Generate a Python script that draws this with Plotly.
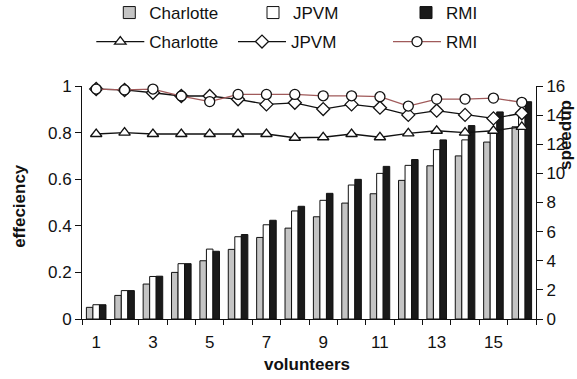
import plotly.graph_objects as go

volunteers = list(range(1, 17))
tick_vals = [1, 3, 5, 7, 9, 11, 13, 15]
tick_labels = ["1", "3", "5", "7", "9", "11", "13", "15"]

speedup_charlotte = [0.80, 1.62, 2.40, 3.20, 4.00, 4.78, 5.60, 6.24, 7.02, 7.96, 8.60, 9.52, 10.52, 11.20, 12.15, 13.20]
speedup_jpvm = [0.98, 1.95, 2.92, 3.80, 4.80, 5.65, 6.47, 7.42, 8.15, 9.20, 10.00, 10.55, 11.63, 12.30, 12.88, 14.00]
speedup_rmi = [0.98, 1.95, 2.94, 3.80, 4.65, 5.80, 6.78, 7.74, 8.63, 9.59, 10.48, 10.95, 12.30, 13.28, 14.22, 14.92]

eff_charlotte = [0.794, 0.800, 0.794, 0.794, 0.794, 0.794, 0.794, 0.778, 0.780, 0.794, 0.780, 0.797, 0.808, 0.800, 0.808, 0.825]
eff_jpvm = [0.987, 0.983, 0.971, 0.957, 0.957, 0.943, 0.921, 0.928, 0.901, 0.921, 0.907, 0.876, 0.894, 0.876, 0.861, 0.883]
eff_rmi = [0.987, 0.983, 0.987, 0.957, 0.933, 0.964, 0.964, 0.964, 0.958, 0.958, 0.954, 0.914, 0.944, 0.944, 0.948, 0.930]

FONT = "Liberation Sans, Arial, sans-serif"

fig = go.Figure()

bar_specs = [
    ("Charlotte", speedup_charlotte, "#c4c4c4", 98.7),
    ("JPVM", speedup_jpvm, "#ffffff", 108),
    ("RMI", speedup_rmi, "#1a1a1a", None),
]
for name, vals, col, lw in bar_specs:
    kw = dict(legendwidth=lw) if lw else {}
    fig.add_trace(go.Bar(
        x=volunteers, y=vals, name=name, yaxis="y",
        marker=dict(color=col, line=dict(color="#111111", width=1)),
        legend="legend", **kw))

line_specs = [
    ("Charlotte", eff_charlotte, "#111111", "triangle-up", 78.7),
    ("JPVM", eff_jpvm, "#111111", "diamond", 92),
    ("RMI", eff_rmi, "#a05a5a", "circle", None),
]
for name, vals, col, sym, lw in line_specs:
    kw = dict(legendwidth=lw) if lw else {}
    fig.add_trace(go.Scatter(
        x=volunteers, y=vals, name=name, yaxis="y2", mode="lines+markers",
        line=dict(color=col, width=1.3),
        marker=dict(symbol=sym, size=10, color="white",
                    line=dict(color="#111111", width=1.3)),
        legend="legend2", cliponaxis=False, **kw))

axis_common = dict(showline=True, linecolor="#111111", linewidth=1,
                   showgrid=False, zeroline=False,
                   tickfont=dict(family=FONT, size=17, color="#111111"))

fig.update_layout(
    width=577, height=379,
    margin=dict(l=82, r=41, t=86, b=60),
    paper_bgcolor="white", plot_bgcolor="white",
    font=dict(family=FONT, size=17, color="#111111"),
    barmode="group", bargap=0.31, bargroupgap=0,
    xaxis=dict(range=[0.5, 16.5], tickvals=tick_vals, ticktext=tick_labels,
               ticks="outside", ticklen=8, tickcolor="rgba(0,0,0,0)",
               minor=dict(ticks="outside", ticklen=5, tickcolor="#111111",
                          tick0=0.5, dtick=1),
               **axis_common),
    yaxis=dict(range=[0, 16], dtick=2, side="right", ticks="outside",
               ticklen=6, tickcolor="#111111", **axis_common),
    yaxis2=dict(range=[0, 1], dtick=0.2, side="left", overlaying="y",
                ticks="outside", ticklen=6, tickcolor="#111111", **axis_common),
    legend=dict(orientation="h", xref="container", yref="container",
                x=109.3 / 577, xanchor="left", y=1 - 13 / 379, yanchor="middle",
                font=dict(family=FONT, size=17), bgcolor="rgba(0,0,0,0)"),
    legend2=dict(orientation="h", xref="container", yref="container",
                 itemwidth=48,
                 x=91.3 / 577, xanchor="left", y=1 - 42 / 379, yanchor="middle",
                 font=dict(family=FONT, size=17), bgcolor="rgba(0,0,0,0)"),
    annotations=[
        dict(text="<b>volunteers</b>", xref="paper", yref="paper",
             x=(307 - 82) / 454, y=(319.3 - 365) / 233.3, showarrow=False,
             xanchor="center", yanchor="middle",
             font=dict(family=FONT, size=17)),
        dict(text="<b>effeciency</b>", xref="paper", yref="paper",
             x=(20 - 82) / 454, y=(319.3 - 206) / 233.3, showarrow=False,
             xanchor="center", yanchor="middle",
             textangle=-90, font=dict(family=FONT, size=17)),
        dict(text="<b>speedup</b>", xref="paper", yref="paper",
             x=(566 - 82) / 454, y=(319.3 - 135) / 233.3, showarrow=False,
             xanchor="center", yanchor="middle",
             textangle=-90, font=dict(family=FONT, size=17)),
    ],
)

fig.write_html("out.html", config={"displayModeBar": False},
               post_script="document.body.style.margin='0px';document.body.style.overflow='hidden';")
